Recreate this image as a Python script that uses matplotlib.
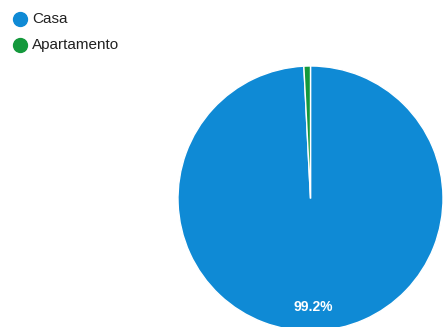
import matplotlib
matplotlib.use("Agg")
import matplotlib.pyplot as plt
from matplotlib.lines import Line2D

plt.rcParams['font.family'] = ['Liberation Sans', 'DejaVu Sans']

labels = ["Casa", "Apartamento"]
values = [99.2, 0.8]
colors = ["#0f8ad5", "#14993c"]

W, H = 445, 327
fig = plt.figure(figsize=(W / 100, H / 100), dpi=100)
fig.patch.set_facecolor("white")

ax = fig.add_axes([178 / W, -4 / H, 265 / W, 265 / H])
wedges, _, autotexts = ax.pie(
    values, colors=colors, startangle=90, counterclock=False,
    autopct=lambda p: f"{p:.1f}%" if p > 5 else "",
    pctdistance=0.82,
    wedgeprops=dict(edgecolor="white", linewidth=1.0),
    textprops=dict(color="white", fontsize=10, fontweight="bold"),
)
ax.set_xlim(-1, 1)
ax.set_ylim(-1, 1)
ax.set_aspect("auto")
ax.axis("off")

# legend entries: coloured dot followed by the category name
for i, (lab, col) in enumerate(zip(labels, colors)):
    y = 1 - (19 + 26 * i) / H
    fig.add_artist(Line2D([20 / W], [y], marker="o", linestyle="", markersize=10,
                          markerfacecolor=col, markeredgecolor=col,
                          transform=fig.transFigure))
    fig.text(32 / W, y, lab, fontsize=11, color="#222222", va="center", ha="left")

fig.savefig("out.png", dpi=100)
